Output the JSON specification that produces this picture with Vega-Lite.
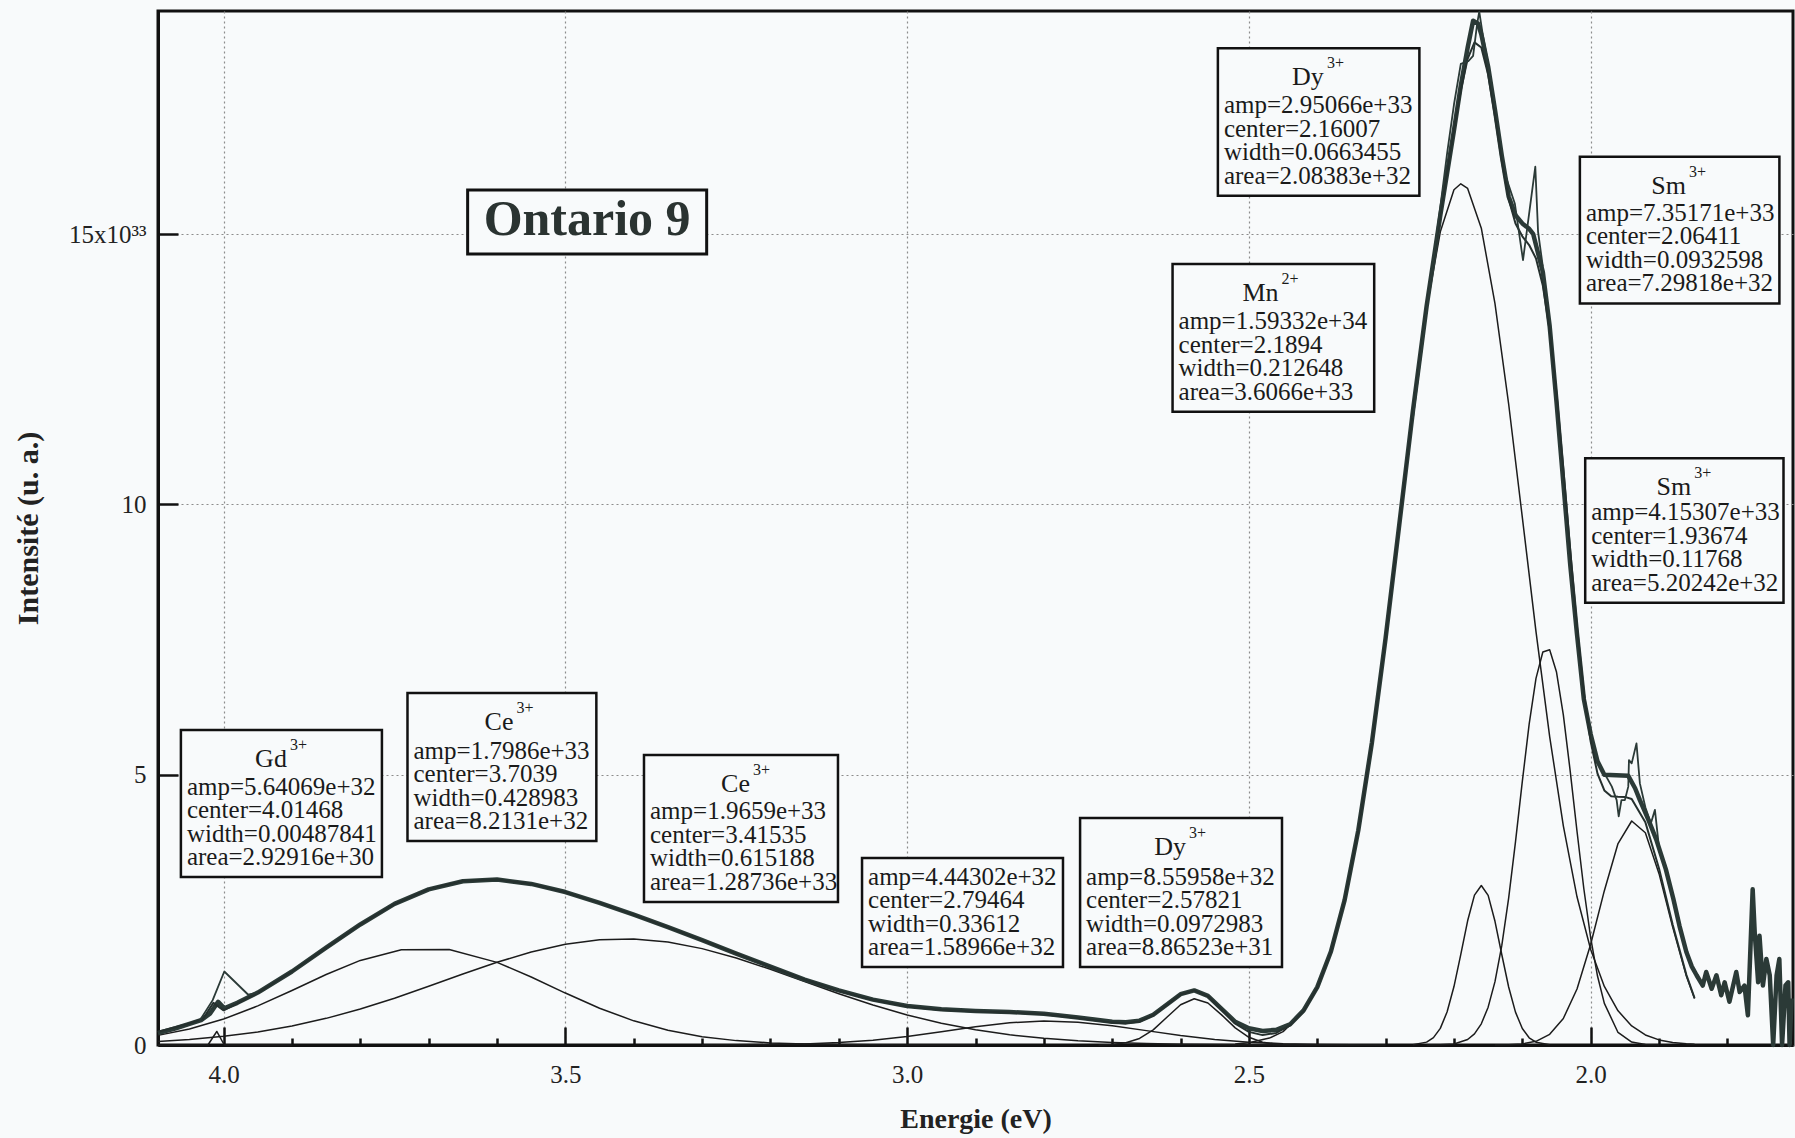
{
  "$schema": "https://vega.github.io/schema/vega-lite/v6.json",
  "width": 1635,
  "height": 1034,
  "autosize": {"type": "none"},
  "padding": {"left": 158, "top": 11, "right": 2, "bottom": 93},
  "background": "#f8fafb",
  "config": {
    "font": "Liberation Serif",
    "view": {"stroke": "#111111", "strokeWidth": 3},
    "axis": {
      "labelFont": "Liberation Serif",
      "labelFontSize": 25,
      "labelColor": "#222222",
      "titleFont": "Liberation Serif",
      "titleFontSize": 28,
      "titleFontWeight": "bold",
      "titleColor": "#222222",
      "domainColor": "#111111",
      "domainWidth": 3,
      "tickColor": "#111111",
      "tickWidth": 2.5,
      "gridColor": "#8c8c8c",
      "gridDash": [2, 3],
      "gridWidth": 1.2
    }
  },
  "datasets": {
    "composantes": [
      {"comp": "Gd", "E": 4.096, "I": 0}, {"comp": "Gd", "E": 4.023, "I": 0}, {"comp": "Gd", "E": 4.01, "I": 0.25}, {"comp": "Gd", "E": 3.999, "I": 0}, {"comp": "Gd", "E": 3.9, "I": 0},
      {"comp": "Ce1", "E": 4.096, "I": 0.178}, {"comp": "Ce1", "E": 4.05, "I": 0.296}, {"comp": "Ce1", "E": 4.0, "I": 0.48}, {"comp": "Ce1", "E": 3.95, "I": 0.723}, {"comp": "Ce1", "E": 3.9, "I": 1.008}, {"comp": "Ce1", "E": 3.85, "I": 1.305}, {"comp": "Ce1", "E": 3.8, "I": 1.565}, {"comp": "Ce1", "E": 3.74, "I": 1.764}, {"comp": "Ce1", "E": 3.67, "I": 1.768}, {"comp": "Ce1", "E": 3.6, "I": 1.529}, {"comp": "Ce1", "E": 3.55, "I": 1.259}, {"comp": "Ce1", "E": 3.5, "I": 0.961}, {"comp": "Ce1", "E": 3.45, "I": 0.681}, {"comp": "Ce1", "E": 3.4, "I": 0.447}, {"comp": "Ce1", "E": 3.35, "I": 0.273}, {"comp": "Ce1", "E": 3.3, "I": 0.154}, {"comp": "Ce1", "E": 3.25, "I": 0.081}, {"comp": "Ce1", "E": 3.2, "I": 0.039}, {"comp": "Ce1", "E": 3.15, "I": 0.018}, {"comp": "Ce1", "E": 3.1, "I": 0.007}, {"comp": "Ce1", "E": 3.0, "I": 0.001}, {"comp": "Ce1", "E": 2.9, "I": 0},
      {"comp": "Ce2", "E": 4.096, "I": 0.066}, {"comp": "Ce2", "E": 4.05, "I": 0.103}, {"comp": "Ce2", "E": 4.0, "I": 0.161}, {"comp": "Ce2", "E": 3.95, "I": 0.242}, {"comp": "Ce2", "E": 3.9, "I": 0.352}, {"comp": "Ce2", "E": 3.85, "I": 0.493}, {"comp": "Ce2", "E": 3.8, "I": 0.665}, {"comp": "Ce2", "E": 3.75, "I": 0.865}, {"comp": "Ce2", "E": 3.7, "I": 1.086}, {"comp": "Ce2", "E": 3.65, "I": 1.313}, {"comp": "Ce2", "E": 3.6, "I": 1.531}, {"comp": "Ce2", "E": 3.55, "I": 1.721}, {"comp": "Ce2", "E": 3.5, "I": 1.865}, {"comp": "Ce2", "E": 3.45, "I": 1.949}, {"comp": "Ce2", "E": 3.4, "I": 1.963}, {"comp": "Ce2", "E": 3.35, "I": 1.905}, {"comp": "Ce2", "E": 3.3, "I": 1.783}, {"comp": "Ce2", "E": 3.25, "I": 1.609}, {"comp": "Ce2", "E": 3.2, "I": 1.4}, {"comp": "Ce2", "E": 3.15, "I": 1.174}, {"comp": "Ce2", "E": 3.1, "I": 0.949}, {"comp": "Ce2", "E": 3.05, "I": 0.739}, {"comp": "Ce2", "E": 3.0, "I": 0.555}, {"comp": "Ce2", "E": 2.95, "I": 0.402}, {"comp": "Ce2", "E": 2.9, "I": 0.281}, {"comp": "Ce2", "E": 2.85, "I": 0.189}, {"comp": "Ce2", "E": 2.8, "I": 0.123}, {"comp": "Ce2", "E": 2.75, "I": 0.077}, {"comp": "Ce2", "E": 2.7, "I": 0.046}, {"comp": "Ce2", "E": 2.65, "I": 0.027}, {"comp": "Ce2", "E": 2.6, "I": 0.015}, {"comp": "Ce2", "E": 2.55, "I": 0.008}, {"comp": "Ce2", "E": 2.5, "I": 0.004}, {"comp": "Ce2", "E": 2.45, "I": 0.002}, {"comp": "Ce2", "E": 2.3, "I": 0},
      {"comp": "X", "E": 3.3, "I": 0.001}, {"comp": "X", "E": 3.25, "I": 0.003}, {"comp": "X", "E": 3.2, "I": 0.008}, {"comp": "X", "E": 3.15, "I": 0.02}, {"comp": "X", "E": 3.1, "I": 0.045}, {"comp": "X", "E": 3.05, "I": 0.09}, {"comp": "X", "E": 3.0, "I": 0.158}, {"comp": "X", "E": 2.95, "I": 0.246}, {"comp": "X", "E": 2.9, "I": 0.338}, {"comp": "X", "E": 2.85, "I": 0.412}, {"comp": "X", "E": 2.8, "I": 0.444}, {"comp": "X", "E": 2.75, "I": 0.423}, {"comp": "X", "E": 2.7, "I": 0.357}, {"comp": "X", "E": 2.65, "I": 0.266}, {"comp": "X", "E": 2.6, "I": 0.175}, {"comp": "X", "E": 2.55, "I": 0.102}, {"comp": "X", "E": 2.5, "I": 0.053}, {"comp": "X", "E": 2.45, "I": 0.024}, {"comp": "X", "E": 2.4, "I": 0.01}, {"comp": "X", "E": 2.35, "I": 0.004}, {"comp": "X", "E": 2.3, "I": 0.001},
      {"comp": "Dy1", "E": 2.72, "I": 0.002}, {"comp": "Dy1", "E": 2.7, "I": 0.011}, {"comp": "Dy1", "E": 2.68, "I": 0.041}, {"comp": "Dy1", "E": 2.66, "I": 0.121}, {"comp": "Dy1", "E": 2.64, "I": 0.28}, {"comp": "Dy1", "E": 2.62, "I": 0.513}, {"comp": "Dy1", "E": 2.6, "I": 0.745}, {"comp": "Dy1", "E": 2.58, "I": 0.855}, {"comp": "Dy1", "E": 2.56, "I": 0.777}, {"comp": "Dy1", "E": 2.54, "I": 0.558}, {"comp": "Dy1", "E": 2.52, "I": 0.317}, {"comp": "Dy1", "E": 2.5, "I": 0.143}, {"comp": "Dy1", "E": 2.48, "I": 0.051}, {"comp": "Dy1", "E": 2.46, "I": 0.014}, {"comp": "Dy1", "E": 2.44, "I": 0.003}, {"comp": "Dy1", "E": 2.42, "I": 0.001},
      {"comp": "Mn", "E": 2.52, "I": 0.02}, {"comp": "Mn", "E": 2.5, "I": 0.043}, {"comp": "Mn", "E": 2.47, "I": 0.128}, {"comp": "Mn", "E": 2.45, "I": 0.248}, {"comp": "Mn", "E": 2.42, "I": 0.612}, {"comp": "Mn", "E": 2.4, "I": 1.05}, {"comp": "Mn", "E": 2.38, "I": 1.718}, {"comp": "Mn", "E": 2.36, "I": 2.674}, {"comp": "Mn", "E": 2.34, "I": 3.966}, {"comp": "Mn", "E": 2.32, "I": 5.599}, {"comp": "Mn", "E": 2.3, "I": 7.527}, {"comp": "Mn", "E": 2.28, "I": 9.632}, {"comp": "Mn", "E": 2.26, "I": 11.737}, {"comp": "Mn", "E": 2.24, "I": 13.618}, {"comp": "Mn", "E": 2.22, "I": 15.044}, {"comp": "Mn", "E": 2.2, "I": 15.823}, {"comp": "Mn", "E": 2.19, "I": 15.933}, {"comp": "Mn", "E": 2.18, "I": 15.847}, {"comp": "Mn", "E": 2.16, "I": 15.111}, {"comp": "Mn", "E": 2.14, "I": 13.718}, {"comp": "Mn", "E": 2.12, "I": 11.859}, {"comp": "Mn", "E": 2.1, "I": 9.761}, {"comp": "Mn", "E": 2.08, "I": 7.648}, {"comp": "Mn", "E": 2.06, "I": 5.707}, {"comp": "Mn", "E": 2.04, "I": 4.055}, {"comp": "Mn", "E": 2.02, "I": 2.742}, {"comp": "Mn", "E": 2.0, "I": 1.767}, {"comp": "Mn", "E": 1.98, "I": 1.083}, {"comp": "Mn", "E": 1.96, "I": 0.632}, {"comp": "Mn", "E": 1.94, "I": 0.352}, {"comp": "Mn", "E": 1.92, "I": 0.186}, {"comp": "Mn", "E": 1.9, "I": 0.094}, {"comp": "Mn", "E": 1.88, "I": 0.045}, {"comp": "Mn", "E": 1.86, "I": 0.021}, {"comp": "Mn", "E": 1.848, "I": 0.012},
      {"comp": "Dy2", "E": 2.26, "I": 0.006}, {"comp": "Dy2", "E": 2.24, "I": 0.053}, {"comp": "Dy2", "E": 2.23, "I": 0.136}, {"comp": "Dy2", "E": 2.22, "I": 0.307}, {"comp": "Dy2", "E": 2.21, "I": 0.614}, {"comp": "Dy2", "E": 2.2, "I": 1.081}, {"comp": "Dy2", "E": 2.19, "I": 1.678}, {"comp": "Dy2", "E": 2.18, "I": 2.298}, {"comp": "Dy2", "E": 2.17, "I": 2.773}, {"comp": "Dy2", "E": 2.16, "I": 2.951}, {"comp": "Dy2", "E": 2.15, "I": 2.768}, {"comp": "Dy2", "E": 2.14, "I": 2.289}, {"comp": "Dy2", "E": 2.13, "I": 1.67}, {"comp": "Dy2", "E": 2.12, "I": 1.073}, {"comp": "Dy2", "E": 2.11, "I": 0.608}, {"comp": "Dy2", "E": 2.1, "I": 0.304}, {"comp": "Dy2", "E": 2.09, "I": 0.134}, {"comp": "Dy2", "E": 2.08, "I": 0.052}, {"comp": "Dy2", "E": 2.06, "I": 0.005},
      {"comp": "Sm1", "E": 2.24, "I": 0.0004}, {"comp": "Sm1", "E": 2.22, "I": 0.003}, {"comp": "Sm1", "E": 2.2, "I": 0.02}, {"comp": "Sm1", "E": 2.18, "I": 0.102}, {"comp": "Sm1", "E": 2.17, "I": 0.206}, {"comp": "Sm1", "E": 2.16, "I": 0.392}, {"comp": "Sm1", "E": 2.15, "I": 0.7}, {"comp": "Sm1", "E": 2.14, "I": 1.172}, {"comp": "Sm1", "E": 2.13, "I": 1.842}, {"comp": "Sm1", "E": 2.12, "I": 2.716}, {"comp": "Sm1", "E": 2.11, "I": 3.757}, {"comp": "Sm1", "E": 2.1, "I": 4.876}, {"comp": "Sm1", "E": 2.09, "I": 5.937}, {"comp": "Sm1", "E": 2.08, "I": 6.783}, {"comp": "Sm1", "E": 2.07, "I": 7.27}, {"comp": "Sm1", "E": 2.06, "I": 7.312}, {"comp": "Sm1", "E": 2.05, "I": 6.9}, {"comp": "Sm1", "E": 2.04, "I": 6.109}, {"comp": "Sm1", "E": 2.03, "I": 5.073}, {"comp": "Sm1", "E": 2.02, "I": 3.954}, {"comp": "Sm1", "E": 2.01, "I": 2.891}, {"comp": "Sm1", "E": 2.0, "I": 1.984}, {"comp": "Sm1", "E": 1.99, "I": 1.276}, {"comp": "Sm1", "E": 1.98, "I": 0.771}, {"comp": "Sm1", "E": 1.96, "I": 0.232}, {"comp": "Sm1", "E": 1.94, "I": 0.054}, {"comp": "Sm1", "E": 1.92, "I": 0.01}, {"comp": "Sm1", "E": 1.9, "I": 0.001},
      {"comp": "Sm2", "E": 2.14, "I": 0.001}, {"comp": "Sm2", "E": 2.12, "I": 0.005}, {"comp": "Sm2", "E": 2.1, "I": 0.02}, {"comp": "Sm2", "E": 2.08, "I": 0.068}, {"comp": "Sm2", "E": 2.06, "I": 0.198}, {"comp": "Sm2", "E": 2.04, "I": 0.491}, {"comp": "Sm2", "E": 2.02, "I": 1.037}, {"comp": "Sm2", "E": 2.0, "I": 1.864}, {"comp": "Sm2", "E": 1.98, "I": 2.855}, {"comp": "Sm2", "E": 1.96, "I": 3.727}, {"comp": "Sm2", "E": 1.94, "I": 4.144}, {"comp": "Sm2", "E": 1.92, "I": 3.926}, {"comp": "Sm2", "E": 1.9, "I": 3.17}, {"comp": "Sm2", "E": 1.88, "I": 2.18}, {"comp": "Sm2", "E": 1.86, "I": 1.278}, {"comp": "Sm2", "E": 1.848, "I": 0.858}
    ],
    "mesure": [
      {"E": 4.096, "I": 0.22}, {"E": 4.07, "I": 0.31}, {"E": 4.05, "I": 0.39}, {"E": 4.033, "I": 0.46}, {"E": 4.02, "I": 0.58}, {"E": 4.008, "I": 0.8}, {"E": 3.999, "I": 0.68}, {"E": 3.98, "I": 0.78}, {"E": 3.95, "I": 0.97}, {"E": 3.9, "I": 1.36}, {"E": 3.85, "I": 1.8}, {"E": 3.8, "I": 2.23}, {"E": 3.75, "I": 2.61}, {"E": 3.7, "I": 2.88}, {"E": 3.65, "I": 3.03}, {"E": 3.6, "I": 3.06}, {"E": 3.55, "I": 2.98}, {"E": 3.5, "I": 2.83}, {"E": 3.45, "I": 2.63}, {"E": 3.4, "I": 2.41}, {"E": 3.35, "I": 2.18}, {"E": 3.3, "I": 1.94}, {"E": 3.25, "I": 1.69}, {"E": 3.2, "I": 1.45}, {"E": 3.15, "I": 1.21}, {"E": 3.1, "I": 1.01}, {"E": 3.05, "I": 0.84}, {"E": 3.0, "I": 0.72}, {"E": 2.95, "I": 0.66}, {"E": 2.9, "I": 0.63}, {"E": 2.85, "I": 0.61}, {"E": 2.8, "I": 0.58}, {"E": 2.75, "I": 0.51}, {"E": 2.7, "I": 0.43}, {"E": 2.68, "I": 0.42}, {"E": 2.66, "I": 0.45}, {"E": 2.64, "I": 0.56}, {"E": 2.62, "I": 0.75}, {"E": 2.6, "I": 0.94}, {"E": 2.58, "I": 1.01}, {"E": 2.56, "I": 0.91}, {"E": 2.54, "I": 0.67}, {"E": 2.52, "I": 0.43}, {"E": 2.5, "I": 0.31}, {"E": 2.48, "I": 0.26}, {"E": 2.46, "I": 0.28}, {"E": 2.44, "I": 0.38}, {"E": 2.42, "I": 0.64}, {"E": 2.4, "I": 1.07}, {"E": 2.38, "I": 1.73}, {"E": 2.36, "I": 2.68}, {"E": 2.34, "I": 3.97}, {"E": 2.32, "I": 5.6}, {"E": 2.3, "I": 7.53}, {"E": 2.28, "I": 9.63}, {"E": 2.26, "I": 11.74}, {"E": 2.24, "I": 13.67}, {"E": 2.22, "I": 15.35}, {"E": 2.2, "I": 16.92}, {"E": 2.19, "I": 17.75}, {"E": 2.18, "I": 18.45}, {"E": 2.172, "I": 18.95}, {"E": 2.165, "I": 18.9}, {"E": 2.16, "I": 18.7}, {"E": 2.15, "I": 18.1}, {"E": 2.14, "I": 17.3}, {"E": 2.13, "I": 16.45}, {"E": 2.12, "I": 15.7}, {"E": 2.11, "I": 15.35}, {"E": 2.1, "I": 15.2}, {"E": 2.09, "I": 15.1}, {"E": 2.084, "I": 15.0}, {"E": 2.07, "I": 14.3}, {"E": 2.06, "I": 13.3}, {"E": 2.05, "I": 11.9}, {"E": 2.04, "I": 10.4}, {"E": 2.03, "I": 8.9}, {"E": 2.02, "I": 7.6}, {"E": 2.01, "I": 6.4}, {"E": 2.0, "I": 5.75}, {"E": 1.99, "I": 5.25}, {"E": 1.98, "I": 5.0}, {"E": 1.945, "I": 4.98}, {"E": 1.935, "I": 4.75}, {"E": 1.928, "I": 4.53}, {"E": 1.915, "I": 4.15}, {"E": 1.904, "I": 3.8}, {"E": 1.89, "I": 3.25}, {"E": 1.879, "I": 2.7}, {"E": 1.87, "I": 2.2}, {"E": 1.86, "I": 1.72}, {"E": 1.852, "I": 1.45}, {"E": 1.845, "I": 1.29}, {"E": 1.836, "I": 1.1}, {"E": 1.831, "I": 1.35}, {"E": 1.823, "I": 1.04}, {"E": 1.816, "I": 1.29}, {"E": 1.809, "I": 0.92}, {"E": 1.804, "I": 1.16}, {"E": 1.797, "I": 0.8}, {"E": 1.787, "I": 1.35}, {"E": 1.782, "I": 0.98}, {"E": 1.775, "I": 1.1}, {"E": 1.77, "I": 0.55}, {"E": 1.763, "I": 2.88}, {"E": 1.76, "I": 2.08}, {"E": 1.755, "I": 1.16}, {"E": 1.753, "I": 2.02}, {"E": 1.748, "I": 1.1}, {"E": 1.743, "I": 1.59}, {"E": 1.738, "I": 1.29}, {"E": 1.733, "I": 0}, {"E": 1.728, "I": 1.29}, {"E": 1.724, "I": 1.59}, {"E": 1.72, "I": 0}, {"E": 1.715, "I": 1.1}, {"E": 1.711, "I": 1.16}, {"E": 1.709, "I": 0}, {"E": 1.706, "I": 0.86}
    ],
    "ajustement": [
      {"E": 4.096, "I": 0.244}, {"E": 4.05, "I": 0.399}, {"E": 4.03, "I": 0.486}, {"E": 4.015, "I": 0.78}, {"E": 4.0, "I": 0.641}, {"E": 3.95, "I": 0.965}, {"E": 3.9, "I": 1.36}, {"E": 3.85, "I": 1.797}, {"E": 3.8, "I": 2.23}, {"E": 3.75, "I": 2.607}, {"E": 3.7, "I": 2.884}, {"E": 3.65, "I": 3.035}, {"E": 3.6, "I": 3.06}, {"E": 3.55, "I": 2.98}, {"E": 3.5, "I": 2.826}, {"E": 3.45, "I": 2.63}, {"E": 3.4, "I": 2.41}, {"E": 3.35, "I": 2.178}, {"E": 3.3, "I": 1.938}, {"E": 3.25, "I": 1.693}, {"E": 3.2, "I": 1.446}, {"E": 3.15, "I": 1.211}, {"E": 3.1, "I": 1.001}, {"E": 3.05, "I": 0.832}, {"E": 3.0, "I": 0.714}, {"E": 2.95, "I": 0.648}, {"E": 2.9, "I": 0.619}, {"E": 2.85, "I": 0.601}, {"E": 2.8, "I": 0.567}, {"E": 2.75, "I": 0.5}, {"E": 2.7, "I": 0.414}, {"E": 2.68, "I": 0.4}, {"E": 2.66, "I": 0.435}, {"E": 2.64, "I": 0.551}, {"E": 2.62, "I": 0.743}, {"E": 2.6, "I": 0.935}, {"E": 2.58, "I": 1.01}, {"E": 2.56, "I": 0.901}, {"E": 2.54, "I": 0.656}, {"E": 2.52, "I": 0.393}, {"E": 2.5, "I": 0.243}, {"E": 2.48, "I": 0.183}, {"E": 2.46, "I": 0.224}, {"E": 2.44, "I": 0.364}, {"E": 2.42, "I": 0.626}, {"E": 2.4, "I": 1.06}, {"E": 2.38, "I": 1.724}, {"E": 2.36, "I": 2.678}, {"E": 2.34, "I": 3.969}, {"E": 2.32, "I": 5.601}, {"E": 2.3, "I": 7.528}, {"E": 2.28, "I": 9.632}, {"E": 2.26, "I": 11.743}, {"E": 2.24, "I": 13.671}, {"E": 2.22, "I": 15.354}, {"E": 2.2, "I": 16.924}, {"E": 2.19, "I": 17.658}, {"E": 2.18, "I": 18.246}, {"E": 2.17, "I": 18.549}, {"E": 2.16, "I": 18.454}, {"E": 2.15, "I": 17.955}, {"E": 2.14, "I": 17.18}, {"E": 2.13, "I": 16.348}, {"E": 2.12, "I": 15.653}, {"E": 2.11, "I": 15.2}, {"E": 2.1, "I": 14.961}, {"E": 2.09, "I": 14.8}, {"E": 2.08, "I": 14.552}, {"E": 2.07, "I": 14.05}, {"E": 2.06, "I": 13.223}, {"E": 2.05, "I": 12.06}, {"E": 2.04, "I": 10.654}, {"E": 2.03, "I": 9.16}, {"E": 2.02, "I": 7.732}, {"E": 2.01, "I": 6.52}, {"E": 2.0, "I": 5.614}, {"E": 1.99, "I": 5.02}, {"E": 1.98, "I": 4.709}, {"E": 1.97, "I": 4.6}, {"E": 1.96, "I": 4.591}, {"E": 1.95, "I": 4.59}, {"E": 1.94, "I": 4.55}, {"E": 1.92, "I": 4.122}, {"E": 1.9, "I": 3.265}, {"E": 1.88, "I": 2.225}, {"E": 1.86, "I": 1.298}, {"E": 1.848, "I": 0.87}
    ],
    "brut": [
      {"seg": "a", "E": 4.035, "I": 0.45}, {"seg": "a", "E": 4.016, "I": 0.83}, {"seg": "a", "E": 3.999, "I": 1.36}, {"seg": "a", "E": 3.964, "I": 0.93}, {"seg": "a", "E": 3.95, "I": 0.97},
      {"seg": "b", "E": 2.26, "I": 11.6}, {"seg": "b", "E": 2.24, "I": 13.6}, {"seg": "b", "E": 2.22, "I": 15.5}, {"seg": "b", "E": 2.21, "I": 16.5}, {"seg": "b", "E": 2.2, "I": 17.4}, {"seg": "b", "E": 2.19, "I": 18.15}, {"seg": "b", "E": 2.179, "I": 18.2}, {"seg": "b", "E": 2.172, "I": 18.3}, {"seg": "b", "E": 2.166, "I": 18.9}, {"seg": "b", "E": 2.163, "I": 19.12}, {"seg": "b", "E": 2.158, "I": 18.7}, {"seg": "b", "E": 2.15, "I": 18.15}, {"seg": "b", "E": 2.14, "I": 17.35},
      {"seg": "c", "E": 2.125, "I": 16.1}, {"seg": "c", "E": 2.111, "I": 15.57}, {"seg": "c", "E": 2.099, "I": 14.52}, {"seg": "c", "E": 2.081, "I": 16.25}, {"seg": "c", "E": 2.077, "I": 15.05}, {"seg": "c", "E": 2.07, "I": 14.4},
      {"seg": "d", "E": 1.985, "I": 5.1}, {"seg": "d", "E": 1.977, "I": 4.96}, {"seg": "d", "E": 1.969, "I": 4.78}, {"seg": "d", "E": 1.962, "I": 4.53}, {"seg": "d", "E": 1.959, "I": 4.23}, {"seg": "d", "E": 1.955, "I": 4.53}, {"seg": "d", "E": 1.95, "I": 4.53}, {"seg": "d", "E": 1.945, "I": 4.78}, {"seg": "d", "E": 1.944, "I": 5.27}, {"seg": "d", "E": 1.94, "I": 5.21}, {"seg": "d", "E": 1.933, "I": 5.58}, {"seg": "d", "E": 1.928, "I": 4.84}, {"seg": "d", "E": 1.92, "I": 4.4}, {"seg": "d", "E": 1.912, "I": 4.1}, {"seg": "d", "E": 1.906, "I": 4.35}, {"seg": "d", "E": 1.9, "I": 3.65}, {"seg": "d", "E": 1.89, "I": 3.3}, {"seg": "d", "E": 1.88, "I": 2.75}, {"seg": "d", "E": 1.87, "I": 2.25}, {"seg": "d", "E": 1.86, "I": 1.75}, {"seg": "d", "E": 1.85, "I": 1.4}
    ],
    "boites": [
      {"ion": "Gd", "charge": "3+", "lignes": ["amp=5.64069e+32", "center=4.01468", "width=0.00487841", "area=2.92916e+30"], "E": 4.0625, "E2": 3.7684, "I": 5.828, "I2": 3.108},
      {"ion": "Ce", "charge": "3+", "lignes": ["amp=1.7986e+33", "center=3.7039", "width=0.428983", "area=8.2131e+32"], "E": 3.731, "E2": 3.4547, "I": 6.512, "I2": 3.774},
      {"ion": "Ce", "charge": "3+", "lignes": ["amp=1.9659e+33", "center=3.41535", "width=0.615188", "area=1.28736e+33"], "E": 3.385, "E2": 3.1012, "I": 5.365, "I2": 2.646},
      {"ion": "", "charge": "", "lignes": ["amp=4.44302e+32", "center=2.79464", "width=0.33612", "area=1.58966e+32"], "E": 3.066, "E2": 2.772, "I": 3.46, "I2": 1.443},
      {"ion": "Dy", "charge": "3+", "lignes": ["amp=8.55958e+32", "center=2.57821", "width=0.0972983", "area=8.86523e+31"], "E": 2.747, "E2": 2.4516, "I": 4.2, "I2": 1.443},
      {"ion": "Dy", "charge": "3+", "lignes": ["amp=2.95066e+33", "center=2.16007", "width=0.0663455", "area=2.08383e+32"], "E": 2.5454, "E2": 2.2506, "I": 18.44, "I2": 15.71},
      {"ion": "Mn", "charge": "2+", "lignes": ["amp=1.59332e+34", "center=2.1894", "width=0.212648", "area=3.6066e+33"], "E": 2.6117, "E2": 2.3167, "I": 14.45, "I2": 11.717},
      {"ion": "Sm", "charge": "3+", "lignes": ["amp=7.35171e+33", "center=2.06411", "width=0.0932598", "area=7.29818e+32"], "E": 2.0158, "E2": 1.7239, "I": 16.435, "I2": 13.72},
      {"ion": "Sm", "charge": "3+", "lignes": ["amp=4.15307e+33", "center=1.93674", "width=0.11768", "area=5.20242e+32"], "E": 2.008, "E2": 1.7179, "I": 10.855, "I2": 8.183}
    ],
    "etiquette": [
      {"texte": "Ontario 9", "E": 3.643, "E2": 3.2933, "I": 15.82, "I2": 14.635}
    ]
  },
  "encoding": {
    "x": {
      "field": "E",
      "type": "quantitative",
      "scale": {"domain": [1.704, 4.096], "reverse": true, "nice": false, "zero": false},
      "axis": {
        "title": "Energie (eV)",
        "values": [4.0, 3.9, 3.8, 3.7, 3.6, 3.5, 3.4, 3.3, 3.2, 3.1, 3.0, 2.9, 2.8, 2.7, 2.6, 2.5, 2.4, 2.3, 2.2, 2.1, 2.0, 1.9, 1.8],
        "labelExpr": "abs(datum.value*2 - round(datum.value*2)) < 0.001 ? format(datum.value, '.1f') : ''",
        "tickSize": {"condition": {"test": "abs(datum.value*2 - round(datum.value*2)) < 0.001", "value": -18}, "value": -7},
        "gridOpacity": {"condition": {"test": "abs(datum.value*2 - round(datum.value*2)) < 0.001", "value": 1}, "value": 0},
        "labelPadding": 35,
        "labelFlush": false,
        "titlePadding": 18
      }
    },
    "y": {
      "field": "I",
      "type": "quantitative",
      "scale": {"domain": [0, 19.13], "nice": false, "zero": true},
      "axis": {
        "title": "Intensité (u. a.)",
        "titleFontSize": 30,
        "values": [0, 5, 10, 15],
        "labelExpr": "datum.value == 15 ? '15x10³³' : datum.label",
        "tickSize": -20,
        "labelPadding": 32,
        "labelFlush": false,
        "titlePadding": 25
      }
    }
  },
  "layer": [
    {
      "data": {"name": "composantes"},
      "mark": {"type": "line", "color": "#1c1c1c", "strokeWidth": 1.5, "strokeJoin": "round"},
      "encoding": {"detail": {"field": "comp", "type": "nominal"}}
    },
    {
      "data": {"name": "mesure"},
      "mark": {"type": "line", "color": "#2b3a37", "strokeWidth": 4.5, "strokeJoin": "round"},
      "encoding": {}
    },
    {
      "data": {"name": "ajustement"},
      "mark": {"type": "line", "color": "#25302e", "strokeWidth": 2, "strokeJoin": "round"},
      "encoding": {}
    },
    {
      "data": {"name": "brut"},
      "mark": {"type": "line", "color": "#2b3a37", "strokeWidth": 1.8, "strokeJoin": "round"},
      "encoding": {"detail": {"field": "seg", "type": "nominal"}}
    },
    {
      "data": {"name": "boites"},
      "mark": {"type": "rect", "fill": "#f8fafb", "stroke": "#111111", "strokeWidth": 2.5},
      "encoding": {
        "x2": {"field": "E2"},
        "y2": {"field": "I2"}
      }
    },
    {
      "data": {"name": "etiquette"},
      "mark": {"type": "rect", "fill": "#f8fafb", "stroke": "#111111", "strokeWidth": 3},
      "encoding": {
        "x2": {"field": "E2"},
        "y2": {"field": "I2"}
      }
    },
    {
      "data": {"name": "boites"},
      "mark": {"type": "text", "align": "right", "baseline": "middle", "dx": 106, "dy": 29, "fontSize": 26, "font": "Liberation Serif", "color": "#1a1a1a"},
      "encoding": {"text": {"field": "ion", "type": "nominal"}}
    },
    {
      "data": {"name": "boites"},
      "mark": {"type": "text", "align": "left", "baseline": "middle", "dx": 109, "dy": 15, "fontSize": 16, "font": "Liberation Serif", "color": "#1a1a1a"},
      "encoding": {"text": {"field": "charge", "type": "nominal"}}
    },
    {
      "data": {"name": "boites"},
      "mark": {"type": "text", "align": "left", "baseline": "bottom", "dx": 6, "dy": -77.5, "fontSize": 25, "lineHeight": 23.5, "font": "Liberation Serif", "color": "#1a1a1a"},
      "encoding": {
        "y": {"field": "I2", "type": "quantitative", "scale": {"domain": [0, 19.13], "nice": false, "zero": true}},
        "text": {"field": "lignes", "type": "nominal"}
      }
    },
    {
      "data": {"name": "etiquette"},
      "mark": {"type": "text", "align": "center", "baseline": "middle", "dx": 119.5, "dy": 30, "fontSize": 50, "fontWeight": "bold", "font": "Liberation Serif", "color": "#2a3331"},
      "encoding": {"text": {"field": "texte", "type": "nominal"}}
    }
  ]
}
